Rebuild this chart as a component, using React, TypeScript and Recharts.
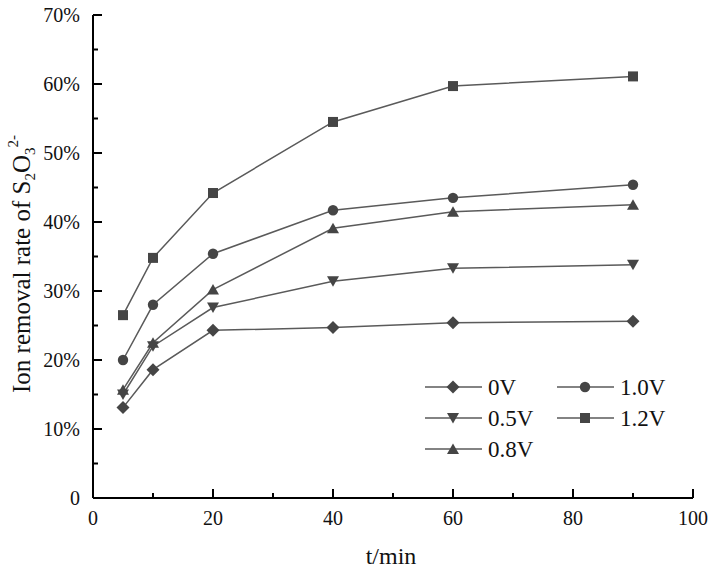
import React from 'react';
import { LineChart, Line, XAxis, YAxis } from 'recharts';

const times = [5, 10, 20, 40, 60, 90];
const rate0V = [13.1, 18.6, 24.3, 24.7, 25.4, 25.6];
const rate05V = [15.0, 22.0, 27.6, 31.4, 33.3, 33.8];
const rate08V = [15.7, 22.5, 30.2, 39.1, 41.5, 42.5];
const rate10V = [20.0, 28.0, 35.4, 41.7, 43.5, 45.4];
const rate12V = [26.5, 34.8, 44.2, 54.5, 59.7, 61.1];

const xTicks = [0, 10, 20, 30, 40, 50, 60, 70, 80, 90, 100];
const yTicks = [0, 5, 10, 15, 20, 25, 30, 35, 40, 45, 50, 55, 60, 65, 70];

const FONT = "'Liberation Serif', 'Times New Roman', serif";
const LINE_COLOR = '#5a5a5a';
const MARK_COLOR = '#454545';

type Shape = 'diamond' | 'down' | 'up' | 'circle' | 'square';

const series: { key: string; name: string; values: number[]; shape: Shape }[] = [
  { key: 'v0', name: '0V', values: rate0V, shape: 'diamond' },
  { key: 'v05', name: '0.5V', values: rate05V, shape: 'down' },
  { key: 'v08', name: '0.8V', values: rate08V, shape: 'up' },
  { key: 'v10', name: '1.0V', values: rate10V, shape: 'circle' },
  { key: 'v12', name: '1.2V', values: rate12V, shape: 'square' },
];

const data = times.map((t, i) => {
  const row: Record<string, number> = { t };
  series.forEach((s) => (row[s.key] = s.values[i]));
  return row;
});

function Marker({ shape, cx, cy }: { shape: Shape; cx: number; cy: number }) {
  switch (shape) {
    case 'diamond':
      return <path d={`M${cx},${cy - 6.5}L${cx + 6.5},${cy}L${cx},${cy + 6.5}L${cx - 6.5},${cy}Z`} fill={MARK_COLOR} />;
    case 'down':
      return <path d={`M${cx - 6},${cy - 5}L${cx + 6},${cy - 5}L${cx},${cy + 5.5}Z`} fill={MARK_COLOR} />;
    case 'up':
      return <path d={`M${cx - 6},${cy + 5}L${cx + 6},${cy + 5}L${cx},${cy - 5.5}Z`} fill={MARK_COLOR} />;
    case 'circle':
      return <circle cx={cx} cy={cy} r={5.2} fill={MARK_COLOR} />;
    default:
      return <rect x={cx - 5} y={cy - 5} width={10} height={10} fill={MARK_COLOR} />;
  }
}

const YTick = (props: any) => {
  const { x, y, payload } = props;
  const v = payload.value;
  const major = v % 10 === 0;
  return (
    <g>
      <line x1={x} x2={x + (major ? 9 : 5)} y1={y} y2={y} stroke="#000" strokeWidth={2} />
      {major && (
        <text x={x - 13} y={y} dy="0.35em" textAnchor="end" fontFamily={FONT} fontSize={20} fill="#111">
          {v === 0 ? '0' : `${v}%`}
        </text>
      )}
    </g>
  );
};

const XTick = (props: any) => {
  const { x, y, payload } = props;
  const v = payload.value;
  const major = v % 20 === 0;
  return (
    <g>
      <line x1={x} x2={x} y1={y} y2={y - (major ? 9 : 5)} stroke="#000" strokeWidth={2} />
      {major && (
        <text x={x} y={y + 27} textAnchor="middle" fontFamily={FONT} fontSize={20} fill="#111">
          {v}
        </text>
      )}
    </g>
  );
};

function ChartLegend() {
  // three rows, filled column by column
  return (
    <svg width={711} height={572} style={{ position: 'absolute', left: 0, top: 0, pointerEvents: 'none' }}>
      {series.map((s, i) => {
        const col = Math.floor(i / 3);
        const row = i % 3;
        const x0 = col === 0 ? 425 : 557;
        const y = 387 + row * 31;
        return (
          <g key={s.key}>
            <line x1={x0} x2={x0 + 57} y1={y} y2={y} stroke={LINE_COLOR} strokeWidth={1.5} />
            <Marker shape={s.shape} cx={x0 + 28} cy={y} />
            <text x={x0 + 63} y={y} dy="0.35em" fontFamily={FONT} fontSize={23} fill="#111">
              {s.name}
            </text>
          </g>
        );
      })}
    </svg>
  );
}

export default function App() {
  return (
    <div style={{ position: 'absolute', left: 0, top: 0, width: 711, height: 572, background: '#fff' }}>
      <LineChart width={711} height={572} data={data} margin={{ top: 15, right: 18, bottom: 34, left: 13 }}>
        <XAxis
          dataKey="t"
          type="number"
          domain={[0, 100]}
          ticks={xTicks}
          interval={0}
          height={40}
          tickSize={0}
          tickMargin={0}
          tickLine={false}
          axisLine={{ stroke: '#000', strokeWidth: 2 }}
          tick={<XTick />}
        />
        <YAxis
          type="number"
          domain={[0, 70]}
          ticks={yTicks}
          interval={0}
          width={80}
          tickSize={0}
          tickMargin={0}
          tickLine={false}
          axisLine={{ stroke: '#000', strokeWidth: 2 }}
          tick={<YTick />}
        />
        {series.map((s) => (
          <Line
            key={s.key}
            dataKey={s.key}
            name={s.name}
            type="linear"
            stroke={LINE_COLOR}
            strokeWidth={1.5}
            isAnimationActive={false}
            dot={(p: any) => <Marker key={`${s.key}-${p.index}`} shape={s.shape} cx={p.cx} cy={p.cy} />}
          />
        ))}
      </LineChart>
      <ChartLegend />
      <svg width={711} height={572} style={{ position: 'absolute', left: 0, top: 0, pointerEvents: 'none' }}>
        <text x={391} y={564} textAnchor="middle" fontFamily={FONT} fontSize={24} fill="#111">
          t/min
        </text>
        <text
          x={30}
          y={393}
          transform="rotate(-90, 30, 393)"
          textAnchor="start"
          fontFamily={FONT}
          fontSize={25}
          fill="#111"
        >
          Ion removal rate of S
          <tspan dy={5} fontSize={15}>2</tspan>
          <tspan dy={-5}>O</tspan>
          <tspan dy={5} fontSize={15}>3</tspan>
          <tspan dy={-17} fontSize={15}>2-</tspan>
        </text>
      </svg>
    </div>
  );
}
